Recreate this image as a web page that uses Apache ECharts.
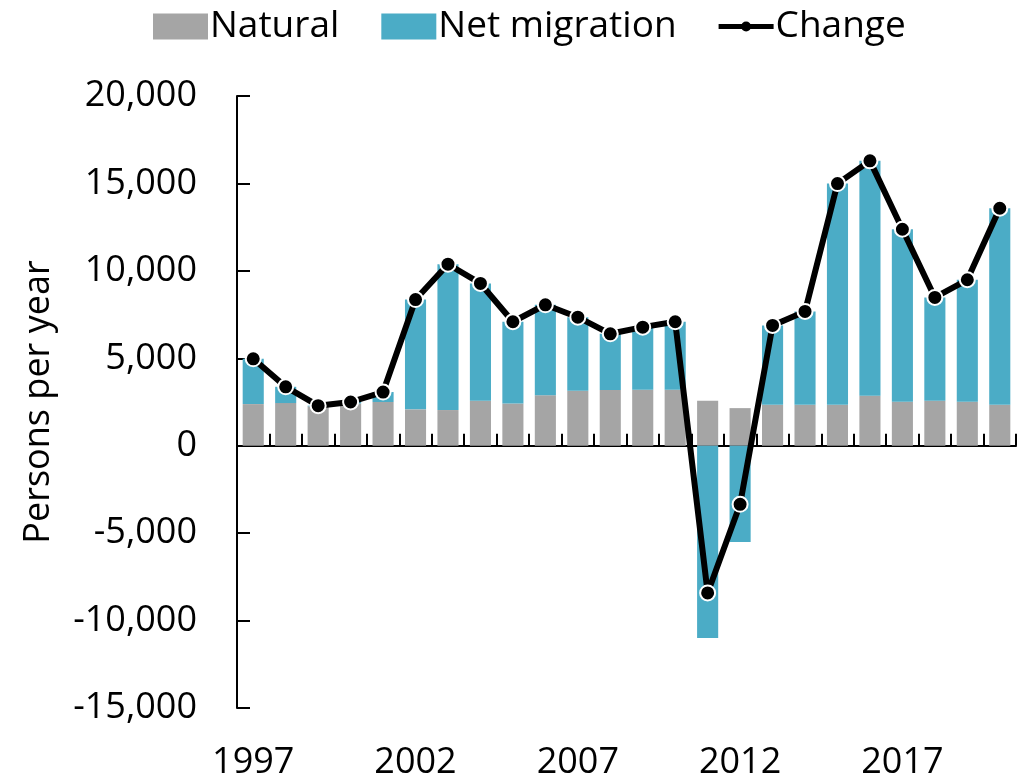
<!DOCTYPE html>
<html>
<head>
<meta charset="utf-8">
<script src="https://cdn.jsdelivr.net/npm/echarts@6/dist/echarts.min.js"></script>
<style>
html,body{margin:0;padding:0;background:#fff;}
#chart{width:1019px;height:781px;}
</style>
</head>
<body>
<div id="chart"></div>
<script>
const years = ['1997','1998','1999','2000','2001','2002','2003','2004','2005','2006','2007','2008',
               '2009','2010','2011','2012','2013','2014','2015','2016','2017','2018','2019','2020'];
const natural = [2380,2440,2250,2420,2500,2080,2040,2570,2420,2880,3140,3180,
                 3200,3200,2570,2150,2340,2340,2340,2860,2510,2570,2510,2340];
const netMigration = [2590,930,40,80,570,6280,8340,6710,4670,5180,4210,3220,
                      3580,3890,-10990,-5500,4540,5340,12650,13430,9870,5910,6980,11240];
const change = [4970,3370,2290,2500,3070,8360,10380,9280,7090,8060,7350,6400,
                6780,7090,-8420,-3350,6880,7680,14990,16290,12380,8480,9490,13580];
const yTicks = {min:-15000, max:20000, interval:5000};

const FONT = '"Open Sans", sans-serif';
const lineIcon = 'path://M0,0 M55,26 M0,10.5 L55,10.5 L55,15.5 L0,15.5 Z M22.5,13 A5,5 0 1 1 32.5,13 A5,5 0 1 1 22.5,13 Z';
const chart = echarts.init(document.getElementById('chart'));
chart.setOption({
  animation: false,
  backgroundColor: '#fff',
  textStyle: {fontFamily: FONT, color: '#000'},
  legend: {
    top: 3,
    left: 148,
    itemWidth: 55,
    itemHeight: 26,
    itemGap: 42,
    textStyle: {fontFamily: FONT, fontSize: 37, color: '#000', padding: [0, 0, 0, -3]},
    data: [
      {name: 'Natural', icon: 'rect'},
      {name: 'Net migration', icon: 'rect'},
      {name: 'Change', icon: lineIcon, itemStyle: {color: '#000', borderWidth: 0}}
    ]
  },
  grid: {left: 237, right: 3, top: 96, bottom: 72.5, containLabel: false},
  xAxis: [
    {
      type: 'category',
      data: years,
      boundaryGap: true,
      axisLine: {show: true, onZero: true, lineStyle: {color: '#000', width: 2}},
      axisTick: {show: true, inside: true, length: 12, interval: 0, lineStyle: {color: '#000', width: 2}},
      axisLabel: {show: false},
      splitLine: {show: false}
    },
    {
      type: 'category',
      data: years,
      position: 'bottom',
      boundaryGap: true,
      axisLine: {show: false, onZero: false},
      axisTick: {show: false},
      axisLabel: {show: true, interval: 4, margin: 37, fontFamily: FONT, fontSize: 36, color: '#000'},
      splitLine: {show: false}
    }
  ],
  yAxis: {
    type: 'value',
    min: yTicks.min,
    max: yTicks.max,
    interval: yTicks.interval,
    name: 'Persons per year',
    nameLocation: 'middle',
    nameRotate: 90,
    nameGap: 180,
    nameTextStyle: {fontFamily: FONT, fontSize: 36, color: '#000'},
    axisLine: {show: true, lineStyle: {color: '#000', width: 2}},
    axisTick: {show: true, inside: true, length: 13, lineStyle: {color: '#000', width: 2}},
    axisLabel: {margin: 40, fontFamily: FONT, fontSize: 36, color: '#000'},
    splitLine: {show: false}
  },
  series: [
    {
      name: 'Natural',
      type: 'bar',
      stack: 'total',
      xAxisIndex: 0,
      data: natural,
      barWidth: '65%',
      itemStyle: {color: '#A5A5A5'}
    },
    {
      name: 'Net migration',
      type: 'bar',
      stack: 'total',
      xAxisIndex: 0,
      data: netMigration,
      barWidth: '65%',
      itemStyle: {color: '#4BACC6'}
    },
    {
      name: 'Change',
      type: 'line',
      xAxisIndex: 0,
      data: change,
      z: 5,
      symbol: 'circle',
      symbolSize: 15,
      lineStyle: {color: '#000', width: 6},
      itemStyle: {color: '#000', borderColor: '#fff', borderWidth: 2}
    }
  ]
});
</script>
</body>
</html>
